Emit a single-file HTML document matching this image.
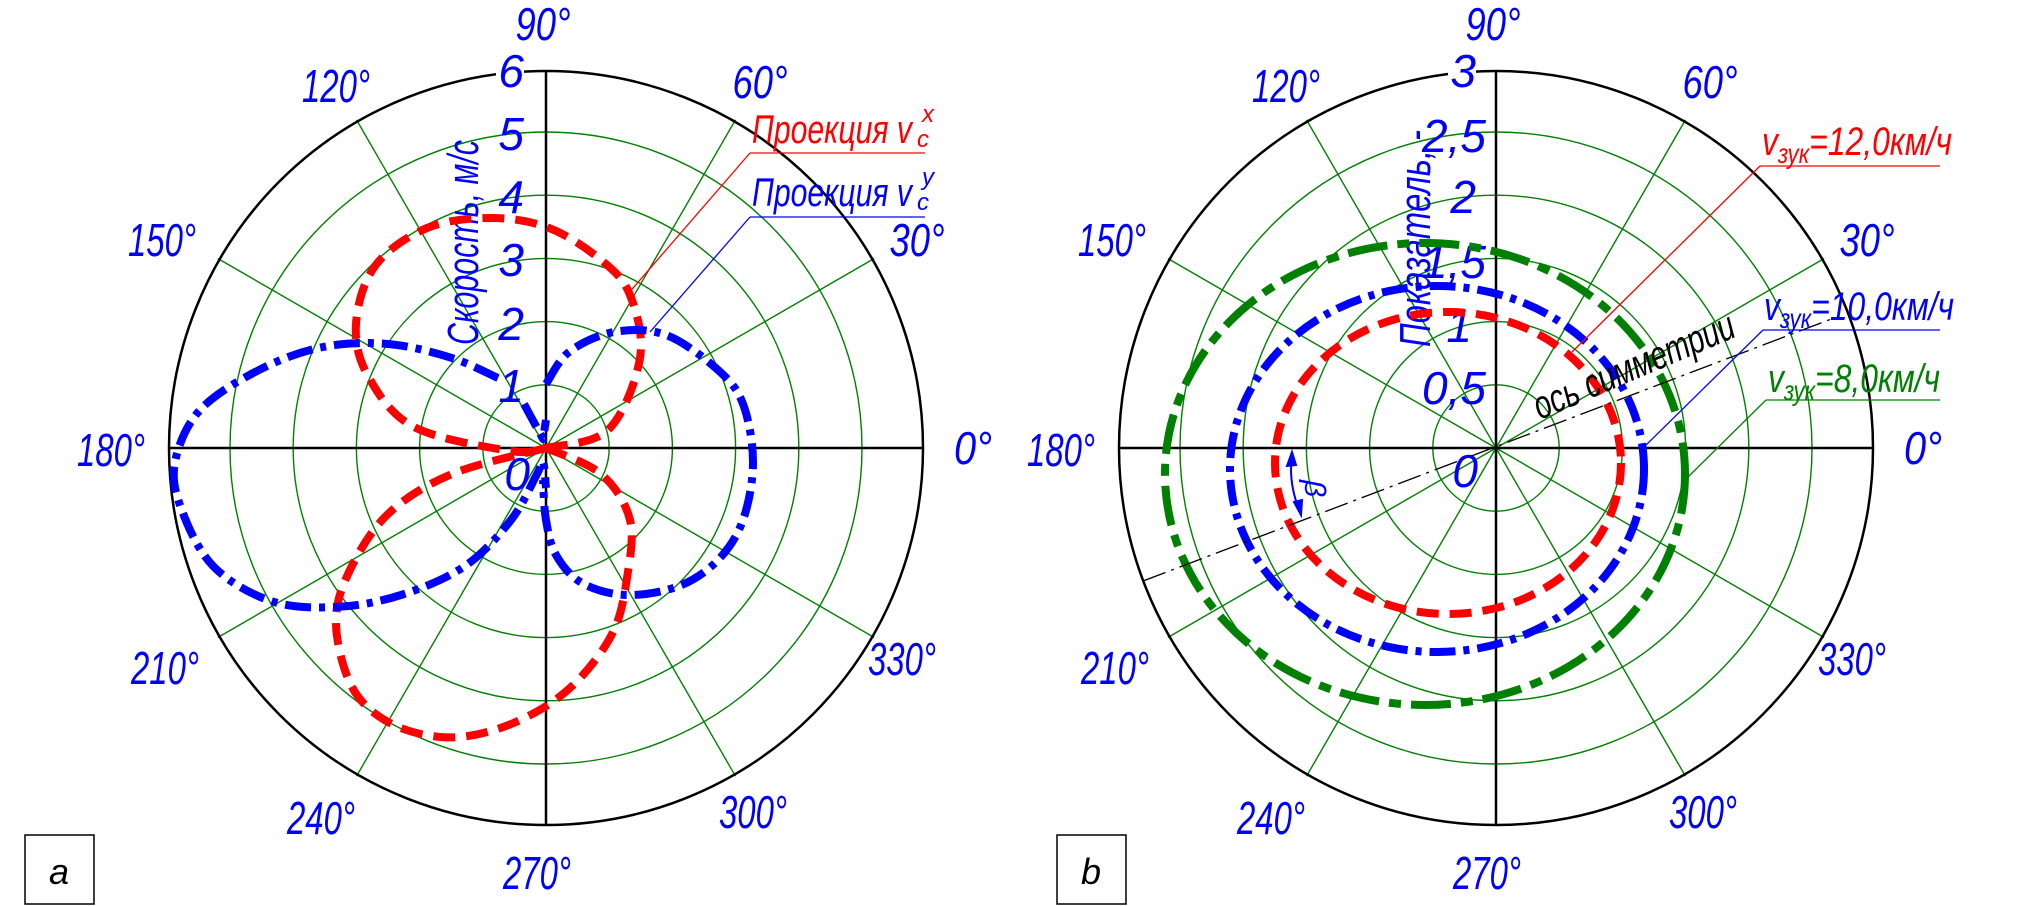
<!DOCTYPE html>
<html><head><meta charset="utf-8"><style>
html,body{margin:0;padding:0;background:#fff;}
svg{display:block}
text{font-family:"Liberation Sans",sans-serif;font-style:italic;}
</style></head><body>
<svg id="s" width="2020" height="906" viewBox="0 0 2020 906" xmlns="http://www.w3.org/2000/svg">
<defs>
<g id="grid">
  <g fill="none" stroke="#008000" stroke-width="1.4">
    <circle r="63.2"/><circle r="126.4"/><circle r="189.6"/><circle r="252.8"/><circle r="316"/>
    <line x1="0" y1="0" x2="328.2" y2="-189.5"/><line x1="0" y1="0" x2="189.5" y2="-328.2"/>
    <line x1="0" y1="0" x2="-328.2" y2="-189.5"/><line x1="0" y1="0" x2="-189.5" y2="-328.2"/>
    <line x1="0" y1="0" x2="328.2" y2="189.5"/><line x1="0" y1="0" x2="189.5" y2="328.2"/>
    <line x1="0" y1="0" x2="-328.2" y2="189.5"/><line x1="0" y1="0" x2="-189.5" y2="328.2"/>
  </g>
  <circle r="377" fill="none" stroke="#000" stroke-width="2.5"/>
  <line x1="-377" y1="0" x2="377" y2="0" stroke="#000" stroke-width="2.5"/>
  <line x1="0" y1="-377" x2="0" y2="377" stroke="#000" stroke-width="2.5"/>
</g>
<g id="angles" fill="#0000ff" font-size="46">
  <text x="-3" y="-408" text-anchor="middle" textLength="55" lengthAdjust="spacingAndGlyphs">90°</text>
  <text x="-210" y="-346" text-anchor="middle" textLength="68" lengthAdjust="spacingAndGlyphs">120°</text>
  <text x="214" y="-350" text-anchor="middle" textLength="55" lengthAdjust="spacingAndGlyphs">60°</text>
  <text x="-384" y="-192" text-anchor="middle" textLength="68" lengthAdjust="spacingAndGlyphs">150°</text>
  <text x="371" y="-192" text-anchor="middle" textLength="55" lengthAdjust="spacingAndGlyphs">30°</text>
  <text x="-435" y="18" text-anchor="middle" textLength="68" lengthAdjust="spacingAndGlyphs">180°</text>
  <text x="427" y="16" text-anchor="middle" textLength="38" lengthAdjust="spacingAndGlyphs">0°</text>
  <text x="-381" y="236" text-anchor="middle" textLength="68" lengthAdjust="spacingAndGlyphs">210°</text>
  <text x="356" y="227" text-anchor="middle" textLength="68" lengthAdjust="spacingAndGlyphs">330°</text>
  <text x="-225" y="386" text-anchor="middle" textLength="68" lengthAdjust="spacingAndGlyphs">240°</text>
  <text x="207" y="380" text-anchor="middle" textLength="68" lengthAdjust="spacingAndGlyphs">300°</text>
  <text x="-9" y="441" text-anchor="middle" textLength="68" lengthAdjust="spacingAndGlyphs">270°</text>
</g>
</defs>

<!-- LEFT CHART -->
<g transform="translate(546,448)"><use href="#grid"/><use href="#angles"/></g>
<g fill="#0000ff" font-size="46" text-anchor="end">
  <rect x="496" y="55" width="28" height="34" fill="#fff"/>
  <text x="524" y="87">6</text>
  <text x="524" y="150">5</text>
  <text x="524" y="213">4</text>
  <text x="524" y="276">3</text>
  <text x="524" y="340">2</text>
  <text x="524" y="402">1</text>
  <text x="530" y="490">0</text>
</g>
<text transform="translate(478,345) rotate(-90)" fill="#0000ff" font-size="44" textLength="205" lengthAdjust="spacingAndGlyphs">Скорость, м/с</text>

<g fill="none" stroke="#ff0000" stroke-width="8" stroke-dasharray="22 11" stroke-linejoin="round">
<polyline class="sm" points="546,448 608,430 640,358 630,295 601,260 549,228 491,218 427,228 375,266 356,324 368,376 414,427 511,451 546,448"/>
<polyline class="sm" points="546,448 452,474 388,514 349,572 336,624 352,687 388,722 440,737 491,731 543,708 582,676 614,630 627,578 630,520 601,474 546,448"/>
</g>
<g fill="none" stroke="#0000ff" stroke-width="8" stroke-dasharray="26 8 6 8" stroke-linejoin="round">
<polyline class="sm" points="498,378 452,358 388,344 323,347 259,370 200,410 175,462 181,508 213,566 271,601 336,607 401,595 465,566 511,520 537,474 543,462 546,488"/>
<polyline class="sm" points="546,384 569,352 614,332 666,335 718,370 743,404 753,462 743,520 718,560 679,586 627,595 582,583 556,555 546,520 543,480"/>
<polyline points="524,404 543,439 546,420"/>
</g>
<g fill="#ff0000">
<text x="752" y="143" font-size="40" textLength="160" lengthAdjust="spacingAndGlyphs">Проекция v</text>
<text x="917" y="147" font-size="24">c</text><text x="922" y="122" font-size="24">x</text>
</g>
<line x1="750" y1="153" x2="925" y2="153" stroke="#ff0000" stroke-width="1.3"/>
<line x1="750" y1="153" x2="627" y2="295" stroke="#ff0000" stroke-width="1.3"/>
<g fill="#0000ff">
<text x="752" y="206" font-size="40" textLength="160" lengthAdjust="spacingAndGlyphs">Проекция v</text>
<text x="917" y="210" font-size="24">c</text><text x="922" y="185" font-size="24">y</text>
</g>
<line x1="750" y1="217" x2="925" y2="217" stroke="#0000ff" stroke-width="1.3"/>
<line x1="750" y1="217" x2="650" y2="332" stroke="#0000ff" stroke-width="1.3"/>
<rect x="25" y="835" width="69" height="69" fill="none" stroke="#000" stroke-width="1.5"/>
<text x="59" y="884" font-size="36" text-anchor="middle" fill="#000">a</text>

<!-- RIGHT CHART -->
<g transform="translate(1496,448)"><use href="#grid"/><use href="#angles"/></g>
<g fill="#0000ff" font-size="46" text-anchor="end">
  <rect x="1448" y="55" width="28" height="34" fill="#fff"/>
  <text x="1476" y="87">3</text>
  <text x="1486" y="152">2,5</text>
  <text x="1476" y="213">2</text>
  <text x="1486" y="278">1,5</text>
  <text x="1472" y="342">1</text>
  <text x="1486" y="404">0,5</text>
  <text x="1478" y="487">0</text>
</g>
<text transform="translate(1430,347) rotate(-90)" fill="#0000ff" font-size="44" textLength="217" lengthAdjust="spacingAndGlyphs">Показатель, -</text>

<ellipse cx="1425" cy="474" rx="260" ry="231" fill="none" stroke="#008000" stroke-width="8" stroke-dasharray="40 10 12 10"/>
<ellipse cx="1437" cy="469" rx="207" ry="183" fill="none" stroke="#0000ff" stroke-width="8" stroke-dasharray="26 8 6 8"/>
<ellipse cx="1448" cy="463" rx="173" ry="151" fill="none" stroke="#ff0000" stroke-width="8" stroke-dasharray="22 11"/>

<line x1="1143" y1="581" x2="1834" y2="318" stroke="#000" stroke-width="1.3" stroke-dasharray="24 6 3 6"/>
<text transform="translate(1540,420) rotate(-23)" fill="#000" font-size="40" font-style="normal" textLength="215" lengthAdjust="spacingAndGlyphs">ось симметрии</text>

<g stroke="#0000ff" stroke-width="2" fill="#0000ff">
<path d="M1292,455 Q1288,483 1300,512" fill="none"/>
<path d="M1292,452 L1287,466 L1296,465 Z"/>
<path d="M1301,515 L1294,502 L1302,500 Z"/>
</g>
<text transform="translate(1305,480) rotate(90)" fill="#0000ff" font-size="30">β</text>

<g font-size="40">
<text x="1762" y="155" fill="#ff0000" textLength="190" lengthAdjust="spacingAndGlyphs">v<tspan font-size="28" dy="8">зук</tspan><tspan dy="-8">=12,0км/ч</tspan></text>
<text x="1764" y="320" fill="#0000ff" textLength="190" lengthAdjust="spacingAndGlyphs">v<tspan font-size="28" dy="8">зук</tspan><tspan dy="-8">=10,0км/ч</tspan></text>
<text x="1768" y="392" fill="#008000" textLength="172" lengthAdjust="spacingAndGlyphs">v<tspan font-size="28" dy="8">зук</tspan><tspan dy="-8">=8,0км/ч</tspan></text>
</g>
<line x1="1760" y1="166" x2="1940" y2="166" stroke="#ff0000" stroke-width="1.3"/>
<line x1="1760" y1="166" x2="1572" y2="352" stroke="#ff0000" stroke-width="1.3"/>
<line x1="1763" y1="330" x2="1940" y2="330" stroke="#0000ff" stroke-width="1.3"/>
<line x1="1763" y1="330" x2="1643" y2="448" stroke="#0000ff" stroke-width="1.3"/>
<line x1="1766" y1="400" x2="1940" y2="400" stroke="#008000" stroke-width="1.3"/>
<line x1="1766" y1="400" x2="1686" y2="479" stroke="#008000" stroke-width="1.3"/>
<rect x="1057" y="835" width="69" height="69" fill="none" stroke="#000" stroke-width="1.5"/>
<text x="1091" y="884" font-size="36" text-anchor="middle" fill="#000">b</text>
</svg>
<script>
(function(){
  var ns="http://www.w3.org/2000/svg";
  var pls=document.querySelectorAll("polyline.sm");
  for(var k=0;k<pls.length;k++){
    var pl=pls[k];
    var nums=pl.getAttribute("points").trim().split(/[\s,]+/).map(Number);
    var p=[];for(var i=0;i<nums.length;i+=2)p.push([nums[i],nums[i+1]]);
    var d="M"+p[0][0]+","+p[0][1];
    for(var i=0;i<p.length-1;i++){
      var p0=p[i-1]||p[i],p1=p[i],p2=p[i+1],p3=p[i+2]||p2;
      var c1=[p1[0]+(p2[0]-p0[0])/6,p1[1]+(p2[1]-p0[1])/6];
      var c2=[p2[0]-(p3[0]-p1[0])/6,p2[1]-(p3[1]-p1[1])/6];
      d+=" C"+c1[0].toFixed(1)+","+c1[1].toFixed(1)+" "+c2[0].toFixed(1)+","+c2[1].toFixed(1)+" "+p2[0]+","+p2[1];
    }
    var path=document.createElementNS(ns,"path");
    path.setAttribute("d",d);
    pl.parentNode.replaceChild(path,pl);
  }
})();
</script>
</body></html>
